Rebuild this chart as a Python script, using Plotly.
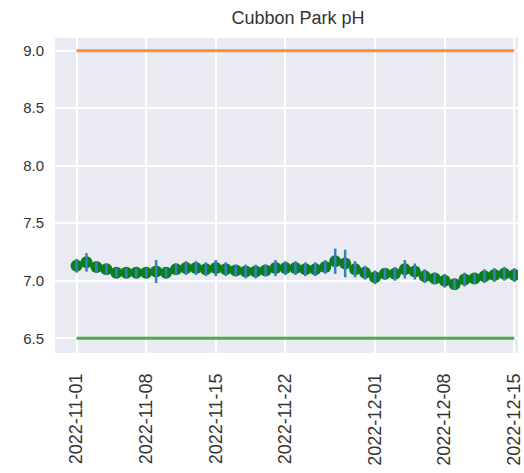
import pandas as pd
import plotly.graph_objects as go

# Daily pH readings, Cubbon Park
dates = pd.date_range("2022-11-01", "2022-12-15", freq="D")
ph_mean = [
    7.13, 7.16, 7.12, 7.10, 7.07, 7.07, 7.07, 7.07, 7.08, 7.07,
    7.10, 7.11, 7.11, 7.10, 7.11, 7.10, 7.09, 7.08, 7.08, 7.09,
    7.11, 7.11, 7.11, 7.10, 7.10, 7.12, 7.17, 7.15, 7.10, 7.07,
    7.03, 7.06, 7.06, 7.10, 7.08, 7.04, 7.02, 7.00, 6.97, 7.01,
    7.02, 7.04, 7.05, 7.06, 7.05,
]
ph_err = [
    0.06, 0.08, 0.05, 0.05, 0.04, 0.04, 0.04, 0.04, 0.10, 0.04,
    0.05, 0.06, 0.06, 0.06, 0.07, 0.06, 0.05, 0.06, 0.06, 0.05,
    0.07, 0.06, 0.06, 0.06, 0.06, 0.06, 0.11, 0.12, 0.07, 0.06,
    0.06, 0.05, 0.06, 0.08, 0.07, 0.06, 0.05, 0.06, 0.05, 0.06,
    0.05, 0.06, 0.06, 0.06, 0.06,
]
upper_limit = 9.0
lower_limit = 6.5
x_ticks = ["2022-11-01", "2022-11-08", "2022-11-15", "2022-11-22",
           "2022-12-01", "2022-12-08", "2022-12-15"]
y_ticks = [6.5, 7.0, 7.5, 8.0, 8.5, 9.0]

fig = go.Figure()

# safe-range limits
fig.add_trace(go.Scatter(
    x=[dates[0], dates[-1]], y=[upper_limit, upper_limit], mode="lines",
    line=dict(color="#f6913f", width=3), showlegend=False, hoverinfo="skip"))
fig.add_trace(go.Scatter(
    x=[dates[0], dates[-1]], y=[lower_limit, lower_limit], mode="lines",
    line=dict(color="#4ca94c", width=3), showlegend=False, hoverinfo="skip"))

# daily means
fig.add_trace(go.Scatter(
    x=dates, y=ph_mean, mode="markers",
    marker=dict(color="#0b7d1f", size=12, line=dict(width=0)),
    showlegend=False))
# error bars drawn over the markers
fig.add_trace(go.Scatter(
    x=dates, y=ph_mean, mode="markers",
    marker=dict(color="rgba(0,0,0,0)", size=1),
    error_y=dict(type="data", array=ph_err, visible=True,
                 color="#3582bb", thickness=2.5, width=0),
    showlegend=False))

x0 = pd.Timestamp("2022-11-01") - pd.Timedelta(hours=52)
x1 = pd.Timestamp("2022-12-15") + pd.Timedelta(hours=9)

fig.update_layout(
    width=524, height=473,
    margin=dict(l=55, r=0, t=38, b=120),
    paper_bgcolor="white",
    plot_bgcolor="#eaeaf2",
    font=dict(family="Liberation Sans, Arial, sans-serif", color="#333333"),
    title=dict(text="Cubbon Park pH", x=298 / 524, xref="container",
               xanchor="center", y=1 - 18 / 473, yref="container",
               yanchor="middle", font=dict(size=18, color="#333333")),
)
fig.update_xaxes(
    range=[x0, x1], tickvals=x_ticks, ticktext=x_ticks,
    tickangle=-90, tickfont=dict(size=18, color="#333333"),
    showgrid=True, gridcolor="white", gridwidth=1.5,
    zeroline=False, showline=False, ticks="", ticklabelstandoff=16,
    ticklabeloverflow="allow")
fig.update_yaxes(
    range=[6.372, 9.11], tickvals=y_ticks,
    ticktext=[f"{v:.1f}" for v in y_ticks],
    tickfont=dict(size=15, color="#333333"),
    showgrid=True, gridcolor="white", gridwidth=1.5,
    zeroline=False, showline=False, ticks="", ticklabelstandoff=10)

fig.write_html("out.html")
